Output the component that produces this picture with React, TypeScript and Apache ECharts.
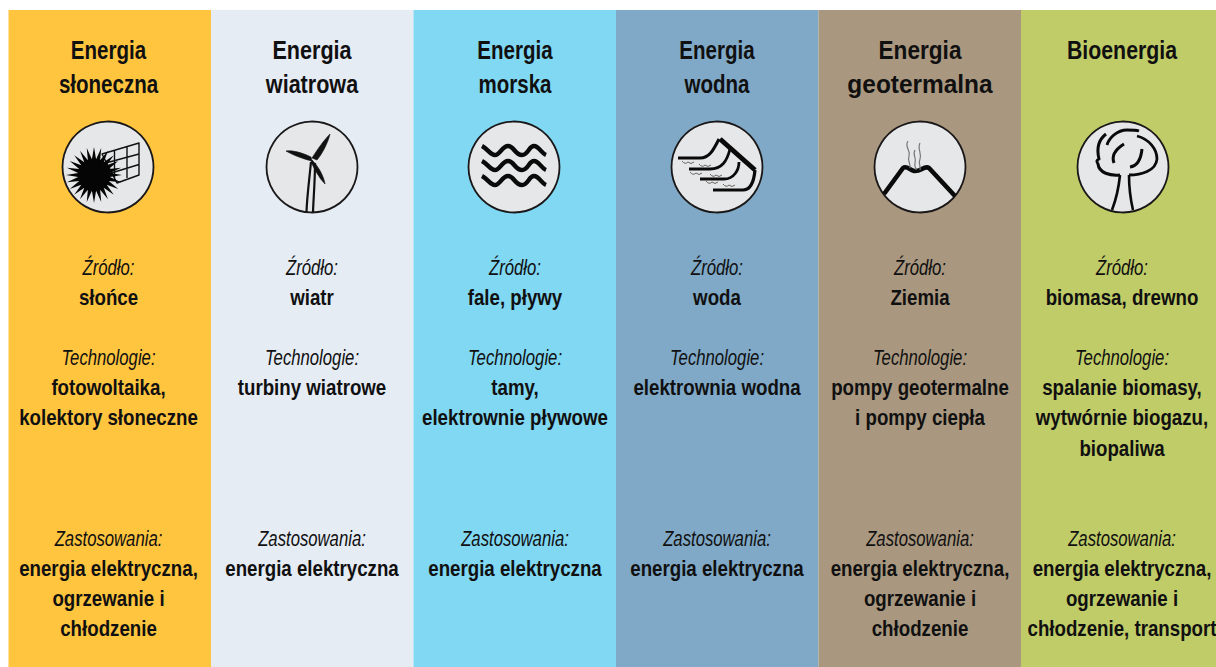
import React, { useEffect, useRef } from "react";
import * as echarts from "echarts";

const titles = [["Energia", "słoneczna"], ["Energia", "wiatrowa"], ["Energia", "morska"], ["Energia", "wodna"], ["Energia", "geotermalna"], ["Bioenergia"]];
const sources = ["słońce", "wiatr", "fale, pływy", "woda", "Ziemia", "biomasa, drewno"];
const technologies = [
  ["fotowoltaika,", "kolektory słoneczne"],
  ["turbiny wiatrowe"],
  ["tamy,", "elektrownie pływowe"],
  ["elektrownia wodna"],
  ["pompy geotermalne", "i pompy ciepła"],
  ["spalanie biomasy,", "wytwórnie biogazu,", "biopaliwa"],
];
const applications = [
  ["energia elektryczna,", "ogrzewanie i", "chłodzenie"],
  ["energia elektryczna"],
  ["energia elektryczna"],
  ["energia elektryczna"],
  ["energia elektryczna,", "ogrzewanie i", "chłodzenie"],
  ["energia elektryczna,", "ogrzewanie i", "chłodzenie, transport"],
];
const bandColors = ["#ffc53f", "#e5ecf4", "#80d8f3", "#7fa9c6", "#a9987f", "#c0cc67"];
const bandValues = [1, 1, 1, 1, 1, 1];
const columnCenters = [108.5, 312, 515, 717, 920, 1122];
const iconCenters = [108, 312, 514, 717, 920, 1123];
const titleScales = [0.79, 0.83, 0.79, 0.79, 0.87, 0.82];

const FONT = '"Liberation Sans", sans-serif';
const INK = "#111011";

function sunPath() {
  let d = "";
  const n = 24;
  for (let i = 0; i < n * 2; i++) {
    const r = i % 2 === 0 ? 28 : 16;
    const a = (i / (n * 2)) * Math.PI * 2;
    d += `${i === 0 ? "M" : "L"}${(-14 + r * Math.cos(a)).toFixed(2)} ${(8 + r * Math.sin(a)).toFixed(2)} `;
  }
  return d + "Z";
}

const iconPaths: Record<string, { d: string; lw: number; fill?: string; stroke?: string }[]> = {
  solar: [
    { d: "M-6 -13L31 -24L31 8L9 16Z M6.5 -16.7L6.5 13 M19 -20.5L19 11 M-6 -3L31 -13 M0 7L31 -2.5", lw: 1.4, stroke: "#111" },
    { d: sunPath(), lw: 0, fill: "#050505" },
  ],
  wind: [
    { d: "M-1 -5C-3 15 -5 30 -5.5 45M3 -4C3 15 1.5 30 1 45", lw: 2.2, stroke: "#111" },
    { d: "M0 -9C5 -17 12 -27 18 -33C16 -24 10 -13 5 -7Z", lw: 0.6, fill: "#111", stroke: "#111" },
    { d: "M-1 -10C-9 -14 -19 -17 -26 -16C-19 -12 -9 -8 0 -6Z", lw: 0.6, fill: "#111", stroke: "#111" },
    { d: "M0 -7C7 0 12 10 13 17C7 11 3 3 -1 -5Z", lw: 0.6, fill: "#111", stroke: "#111" },
  ],
  sea: [-21, -6, 9].map((y) => ({
    d: `M-32 ${y}C-26 ${y + 3} -24 ${y + 9} -19 ${y + 9}C-14 ${y + 9} -12 ${y} -6 ${y}C0 ${y} 1 ${y + 9} 8 ${y + 9}C14 ${y + 9} 15 ${y} 20 ${y}C25 ${y} 27 ${y + 7} 32 ${y + 9}`,
    lw: 4.4,
    stroke: "#0a0a0a",
  })),
  water: [
    { d: "M3 -28L38 3", lw: 5, stroke: "#0a0a0a" },
    { d: "M38 3C37 14 34 23 26 23L-4 23", lw: 3.2, stroke: "#0a0a0a" },
    { d: "M-39 -9L-17 -9C-8 -9 -4 -16 2 -28", lw: 3, stroke: "#0a0a0a" },
    { d: "M-28 2L-7 2C5 2 10 -6 13 -18", lw: 2.8, stroke: "#0a0a0a" },
    { d: "M-17 12L7 12C17 12 22 3 22 -5", lw: 2.8, stroke: "#0a0a0a" },
    { d: "M-35 -6Q-32 -2 -29 -5Q-26 -2 -23 -5 M-18 -3Q-15 1 -12 -2Q-9 1 -6 -2 M-27 5Q-24 9 -21 6Q-18 9 -15 6 M-7 7Q-4 11 -1 8Q2 11 5 8 M-11 14Q-8 18 -5 15Q-2 18 1 15 M6 17Q9 21 12 18Q15 21 18 18", lw: 1, stroke: "#666" },
  ],
  geo: [
    { d: "M-36 27L-17 1C-13 -2 -11 3 -6 4C1 5 4 -2 9 1L35 29", lw: 4.6, stroke: "#0a0a0a" },
    { d: "M-12 -26C-16 -20 -9 -17 -11 -11C-13 -6 -9 -3 -10 1 M-5 -17C-8 -12 -3 -9 -5 -4C-6 -1 -4 1 -4 3 M0 -24C-3 -18 2 -14 0 -8C-2 -4 1 -1 0 3", lw: 1.2, stroke: "#777" },
  ],
  bio: [
    { d: "M-3 8C-4 18 -6 30 -11 43M6 8C6 18 7 30 10 43", lw: 2.6, stroke: "#0a0a0a" },
    { d: "M-3 8C-13 9 -24 6 -25 -3C-27 -6 -26 -7 -24 -8C-26 -16 -26 -26 -17 -33", lw: 3, stroke: "#0a0a0a" },
    { d: "M6 8C18 8 33 4 34 -8C34 -18 26 -28 14 -31", lw: 2.8, stroke: "#0a0a0a" },
    { d: "M-16 -22C-14 -29 -6 -37 4 -37C9 -37 13 -37 16 -36", lw: 2.8, stroke: "#0a0a0a" },
    { d: "M-9 -4C-12 -12 -7 -18 1 -23", lw: 3, stroke: "#0a0a0a" },
    { d: "M7 0C14 -1 18 -8 19 -18", lw: 3, stroke: "#0a0a0a" },
  ],
};
const iconOrder = ["solar", "wind", "sea", "water", "geo", "bio"];

function textLine(text: string, cx: number, y: number, bold: boolean, size: number, scaleX: number) {
  return {
    type: "text",
    x: cx,
    y,
    scaleX,
    z: 20,
    silent: true,
    style: {
      text,
      x: 0,
      y: 0,
      fill: INK,
      align: "center",
      verticalAlign: "middle",
      font: `${bold ? "bold" : "italic"} ${size}px ${FONT}`,
    },
  };
}

function buildGraphics() {
  const out: any[] = [];
  let shapeId = 0;
  iconOrder.forEach((key, i) => {
    const cx = iconCenters[i];
    out.push({
      type: "circle",
      z: 10,
      shape: { cx, cy: 167, r: 45.5 },
      style: { fill: "#e6e7e8", stroke: "#1a1718", lineWidth: 1.8 },
    });
    iconPaths[key].forEach((p) => {
      const name = `icon${shapeId++}`;
      echarts.graphic.registerShape(name, echarts.graphic.extendPath(p.d, {}) as any);
      out.push({
        type: name,
        z: 11,
        x: cx,
        y: 167,
        style: { fill: p.fill ?? "none", stroke: p.stroke ?? "none", lineWidth: p.lw, lineJoin: "round" },
      });
    });
  });
  columnCenters.forEach((cx, i) => {
    titles[i].forEach((t, k) => out.push(textLine(t, cx, 50 + k * 34, true, 26, t === "geotermalna" ? 0.94 : titleScales[i])));
    out.push(textLine("Źródło:", cx, 267, false, 22, 0.76));
    out.push(textLine(sources[i], cx, 297, true, 22, 0.85));
    out.push(textLine("Technologie:", cx, 357, false, 22, 0.76));
    technologies[i].forEach((t, k) => out.push(textLine(t, cx, 387 + k * 30.5, true, 22, 0.85)));
    out.push(textLine("Zastosowania:", cx, 538, false, 22, 0.76));
    applications[i].forEach((t, k) => out.push(textLine(t, cx, 568 + k * 30, true, 22, 0.85)));
  });
  return out;
}

export default function App() {
  const ref = useRef<HTMLDivElement>(null);
  useEffect(() => {
    document.body.style.margin = "0";
    const chart = echarts.init(ref.current!, null, { renderer: "svg" });
    chart.setOption({
      animation: false,
      backgroundColor: "#ffffff",
      grid: { left: 8.5, top: 10, width: 1215, bottom: 0, containLabel: false, outerBoundsMode: "none" },
      xAxis: { type: "category", data: titles.map((t) => t.join(" ")), show: false },
      yAxis: { type: "value", min: 0, max: 1, show: false },
      series: [
        {
          type: "bar",
          barWidth: "100%",
          silent: true,
          clip: false,
          data: bandValues.map((value, i) => ({ value, itemStyle: { color: bandColors[i] } })),
        },
      ],
      graphic: { elements: buildGraphics() },
    });
    return () => chart.dispose();
  }, []);
  return <div ref={ref} style={{ width: 1216, height: 667, overflow: "hidden" }} />;
}
